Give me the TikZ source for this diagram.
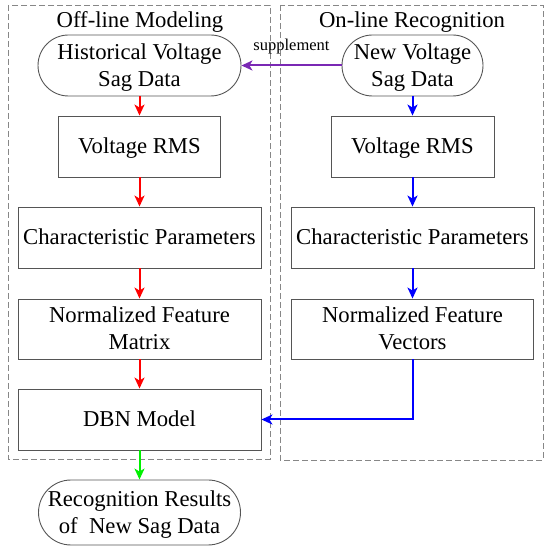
\documentclass[tikz,border=0pt]{standalone}
\usepackage{fontspec}
\setmainfont{Liberation Serif}
\usetikzlibrary{arrows.meta}
\definecolor{boxgray}{RGB}{85,85,85}
\definecolor{dashgray}{RGB}{135,135,135}
\definecolor{arrred}{RGB}{255,0,0}
\definecolor{arrblue}{RGB}{0,0,255}
\definecolor{arrgreen}{RGB}{0,240,0}
\definecolor{arrpurple}{RGB}{122,40,180}
\tikzset{
  stagebox/.style={draw=boxgray, line width=0.9pt, rectangle, inner sep=0pt, align=center,
    font=\fontsize{22.7}{27}\selectfont, text height=15pt, text depth=0pt},
  twoline/.style={text height=42pt, text depth=0pt},
  termbox/.style={stagebox, rounded corners=#1},
  groupbox/.style={draw=dashgray, line width=0.9pt, dash pattern=on 6pt off 3pt},
  grouptitle/.style={font=\fontsize{22.7}{27}\selectfont, inner sep=0pt, anchor=base},
  flow/.style={line width=2pt, -{Stealth[length=11pt,width=10pt,inset=3pt]}},
}
\begin{document}
\begin{tikzpicture}[x=1pt,y=-1pt]
\useasboundingbox (0,0) rectangle (550,548);
% group frames
\draw[groupbox] (8,5) rectangle (270,459);
\draw[groupbox] (280,5) rectangle (543,460);
\node[grouptitle] (tOff) at (140,28) {Off-line Modeling};
\node[grouptitle] (tOn) at (412,28) {On-line Recognition};
% left column
\node[termbox=30.5pt, twoline, minimum width=203pt, minimum height=61pt] (hist) at (139.5,65.5) {Historical Voltage\\Sag Data};
\node[stagebox, minimum width=162pt, minimum height=61pt] (vrmsL) at (139.5,146.5) {Voltage RMS};
\node[stagebox, minimum width=243pt, minimum height=61pt] (cpL) at (139.5,237.5) {Characteristic Parameters};
\node[stagebox, twoline, minimum width=243pt, minimum height=60pt] (nfm) at (139.5,329) {Normalized Feature\\Matrix};
\node[stagebox, minimum width=243pt, minimum height=61pt] (dbn) at (139.5,419.5) {DBN Model};
\node[termbox=32.5pt, twoline, minimum width=202pt, minimum height=65pt] (res) at (139.5,512.5) {Recognition Results\\of~ New Sag Data};
% right column
\node[termbox=30.5pt, twoline, minimum width=141pt, minimum height=61pt] (new) at (412.5,65.5) {New Voltage\\Sag Data};
\node[stagebox, minimum width=163pt, minimum height=61pt] (vrmsR) at (412.5,146.5) {Voltage RMS};
\node[stagebox, minimum width=243pt, minimum height=61pt] (cpR) at (412.5,237.5) {Characteristic Parameters};
\node[stagebox, twoline, minimum width=242pt, minimum height=60pt] (nfv) at (412.5,329) {Normalized Feature\\Vectors};
% connectors
\draw[flow, arrred] (hist) -- (vrmsL);
\draw[flow, arrred] (vrmsL) -- (cpL);
\draw[flow, arrred] (cpL) -- (nfm);
\draw[flow, arrred] (nfm) -- (dbn);
\draw[flow, arrblue] (new) -- (vrmsR);
\draw[flow, arrblue] (vrmsR) -- (cpR);
\draw[flow, arrblue] (cpR) -- (nfv);
\draw[flow, arrblue] (nfv.south) |- (dbn.east);
\draw[flow, arrgreen] (dbn) -- (res);
\draw[flow, arrpurple] (new.west) -- node[midway, above=10pt, inner sep=0pt, font=\fontsize{16.5}{20}\selectfont, text=black] (supp) {supplement} (hist.east);
\end{tikzpicture}
\end{document}
